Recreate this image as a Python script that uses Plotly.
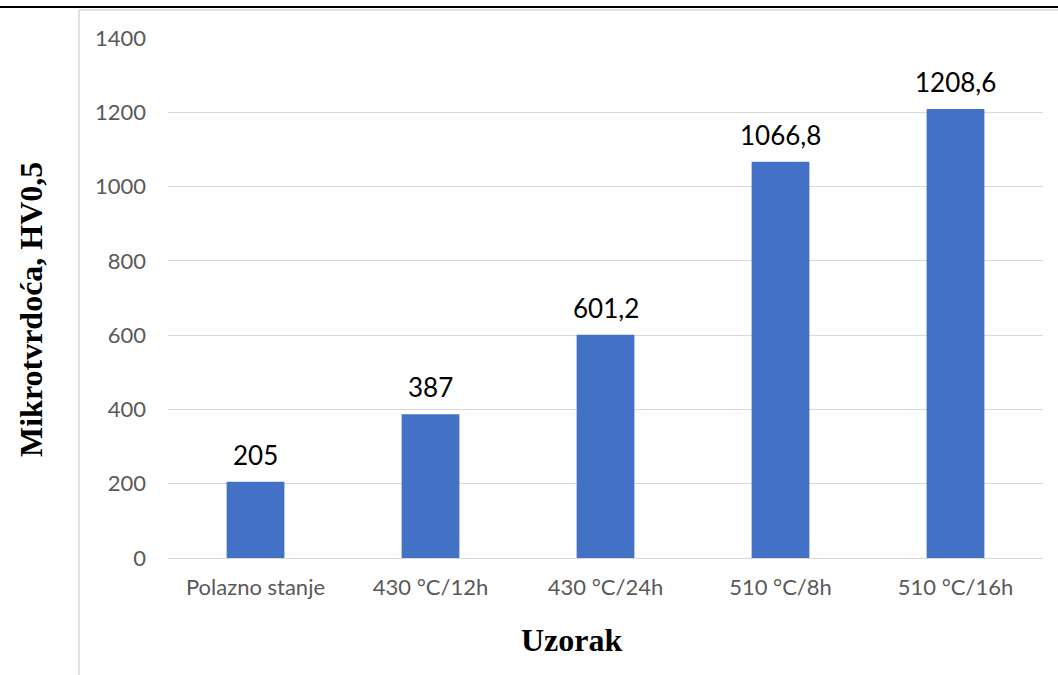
import plotly.graph_objects as go

categories = ["Polazno stanje", "430 °C/12h", "430 °C/24h", "510 °C/8h", "510 °C/16h"]
hardness = [205, 387, 601.2, 1066.8, 1208.6]
y_ticks = [0, 200, 400, 600, 800, 1000, 1200, 1400]

labels = [f"{v:g}".replace(".", ",") for v in hardness]

# plot area in pixels
W, H = 1058, 675
L, R, T, B = 168, 15, 38, 117
pw, ph = W - L - R, H - T - B

def px(x):
    return (x - L) / pw

def py(y):
    return (H - B - y) / ph

fig = go.Figure()
fig.add_trace(go.Bar(
    x=categories, y=hardness,
    marker=dict(color="#4271C5", line=dict(width=0)),
    width=0.33,
    cliponaxis=False,
))

value_labels = [
    dict(text=t, x=c, y=v, xref="x", yref="y", showarrow=False,
         xanchor="center", yanchor="bottom", yshift=9,
         font=dict(family="Lato", size=26, color="#000000"))
    for c, v, t in zip(categories, hardness, labels)
]

fig.update_layout(
    width=W, height=H,
    margin=dict(l=L, r=R, t=T, b=B),
    paper_bgcolor="white", plot_bgcolor="white",
    showlegend=False,
    font=dict(family="Lato", color="#595959"),
    xaxis=dict(
        tickfont=dict(family="Lato", size=22, color="#595959"),
        showgrid=False, showline=False, ticks="", ticklabelstandoff=14,
    ),
    yaxis=dict(
        range=[0, 1400], tickvals=y_ticks,
        tickfont=dict(family="Lato", size=22, color="#595959"),
        showgrid=True, gridcolor="#D9D9D9", gridwidth=1,
        zeroline=True, zerolinecolor="#D9D9D9", zerolinewidth=1,
        showline=False, ticks="", ticklen=0, ticklabelstandoff=21,
    ),
    annotations=value_labels + [
        dict(text="<b>Uzorak</b>", xref="paper", yref="paper", x=px(572), y=py(640),
             showarrow=False, xanchor="center", yanchor="middle",
             font=dict(family="Liberation Serif", size=32, color="#000000")),
        dict(text="<b>Mikrotvrdoća, HV0,5</b>", xref="paper", yref="paper", x=px(31), y=py(310),
             showarrow=False, xanchor="center", yanchor="middle", textangle=-90,
             font=dict(family="Liberation Serif", size=32, color="#000000")),
    ],
    shapes=[
        dict(type="line", xref="paper", yref="paper", x0=px(0), x1=px(W), y0=py(7), y1=py(7),
             line=dict(color="#000000", width=2)),
        dict(type="line", xref="paper", yref="paper", x0=px(79), x1=px(W), y0=py(10), y1=py(10),
             line=dict(color="#D9D9D9", width=1.5)),
        dict(type="line", xref="paper", yref="paper", x0=px(79), x1=px(79), y0=py(10), y1=py(H),
             line=dict(color="#D9D9D9", width=1.5)),
    ],
)

fig.write_html("out.html", config={"displayModeBar": False},
               post_script="document.body.style.margin='0';document.body.style.padding='0';")
